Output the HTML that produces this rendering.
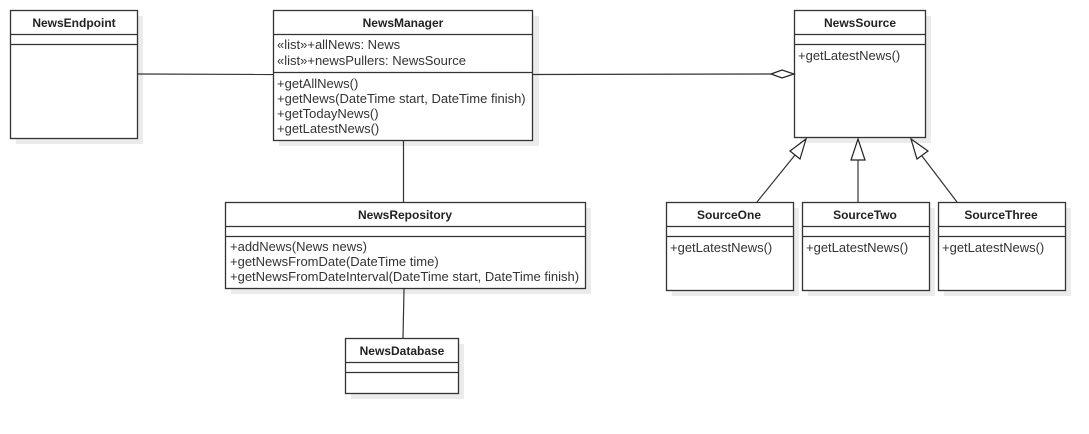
<!DOCTYPE html>
<html><head><meta charset="utf-8"><style>
html,body{margin:0;padding:0;background:#fff;}
svg{display:block;}
text{font-family:"Liberation Sans",sans-serif;font-size:13px;fill:#333;}
.b{font-weight:bold;font-size:12px;fill:#222;}
</style></head><body>
<svg width="1089" height="434" viewBox="0 0 1089 434" xmlns="http://www.w3.org/2000/svg">
<g fill="#ebebeb">
<rect x="16" y="16" width="127" height="128"/>
<rect x="279" y="16" width="260" height="130"/>
<rect x="800" y="16" width="131" height="127"/>
<rect x="231" y="208" width="360" height="86"/>
<rect x="351" y="344" width="113" height="55"/>
<rect x="672" y="208" width="127" height="88"/>
<rect x="808" y="208" width="127" height="88"/>
<rect x="944" y="208" width="127" height="88"/>
</g>
<g fill="#fff" stroke="#333" stroke-width="1.3">
<rect x="10.5" y="10.5" width="127" height="128"/>
<line x1="10" y1="34.5" x2="137" y2="34.5"/><line x1="10" y1="44.5" x2="137" y2="44.5"/>
<rect x="273.5" y="10.5" width="259" height="130"/>
<line x1="273" y1="34.5" x2="532" y2="34.5"/><line x1="273" y1="72.5" x2="532" y2="72.5"/>
<rect x="794.5" y="10.5" width="131" height="127"/>
<line x1="794" y1="34.5" x2="925" y2="34.5"/><line x1="794" y1="44.5" x2="925" y2="44.5"/>
<rect x="225.5" y="202.5" width="360" height="86"/>
<line x1="225" y1="226.5" x2="585" y2="226.5"/><line x1="225" y1="236.5" x2="585" y2="236.5"/>
<rect x="345.5" y="338.5" width="113" height="55"/>
<line x1="345" y1="362.5" x2="458" y2="362.5"/><line x1="345" y1="372.5" x2="458" y2="372.5"/>
<rect x="666.5" y="202.5" width="127" height="88"/>
<line x1="666" y1="226.5" x2="793" y2="226.5"/><line x1="666" y1="236.5" x2="793" y2="236.5"/>
<rect x="802.5" y="202.5" width="127" height="88"/>
<line x1="802" y1="226.5" x2="929" y2="226.5"/><line x1="802" y1="236.5" x2="929" y2="236.5"/>
<rect x="938.5" y="202.5" width="127" height="88"/>
<line x1="938" y1="226.5" x2="1065" y2="226.5"/><line x1="938" y1="236.5" x2="1065" y2="236.5"/>
</g>
<g stroke="#333" stroke-width="1.2" fill="none">
<line x1="138" y1="74" x2="273" y2="74.5"/>
<line x1="533" y1="74.5" x2="771" y2="74"/>
<line x1="403.5" y1="141" x2="403.5" y2="202"/>
<line x1="404" y1="289" x2="403" y2="338"/>
<line x1="757" y1="202" x2="795" y2="155"/>
<line x1="858" y1="202" x2="858" y2="160"/>
<line x1="957" y1="202" x2="922" y2="156"/>
</g>
<g stroke="#222" stroke-width="1.2" fill="#fff">
<polygon points="771,74 782,70 794,74 782,78"/>
<polygon points="806,139 800,159 790,151"/>
<polygon points="858,139 865,160 851,160"/>
<polygon points="911,139 928,151 917,159"/>
</g>
<text class="b" x="74" y="27" text-anchor="middle">NewsEndpoint</text>
<text class="b" x="403" y="27" text-anchor="middle">NewsManager</text>
<text x="277" y="49">«list»+allNews: News</text>
<text x="277" y="65">«list»+newsPullers: NewsSource</text>
<text x="277" y="88">+getAllNews()</text>
<text x="277" y="103">+getNews(DateTime start, DateTime finish)</text>
<text x="277" y="118">+getTodayNews()</text>
<text x="277" y="133">+getLatestNews()</text>
<text class="b" x="860" y="27" text-anchor="middle">NewsSource</text>
<text x="798" y="60">+getLatestNews()</text>
<text class="b" x="405" y="219" text-anchor="middle">NewsRepository</text>
<text x="230" y="251">+addNews(News news)</text>
<text x="230" y="266">+getNewsFromDate(DateTime time)</text>
<text x="230" y="281">+getNewsFromDateInterval(DateTime start, DateTime finish)</text>
<text class="b" x="402" y="355" text-anchor="middle">NewsDatabase</text>
<text class="b" x="729" y="219" text-anchor="middle">SourceOne</text>
<text x="670" y="252">+getLatestNews()</text>
<text class="b" x="865" y="219" text-anchor="middle">SourceTwo</text>
<text x="806" y="252">+getLatestNews()</text>
<text class="b" x="1001" y="219" text-anchor="middle">SourceThree</text>
<text x="942" y="252">+getLatestNews()</text>
</svg>
</body></html>
